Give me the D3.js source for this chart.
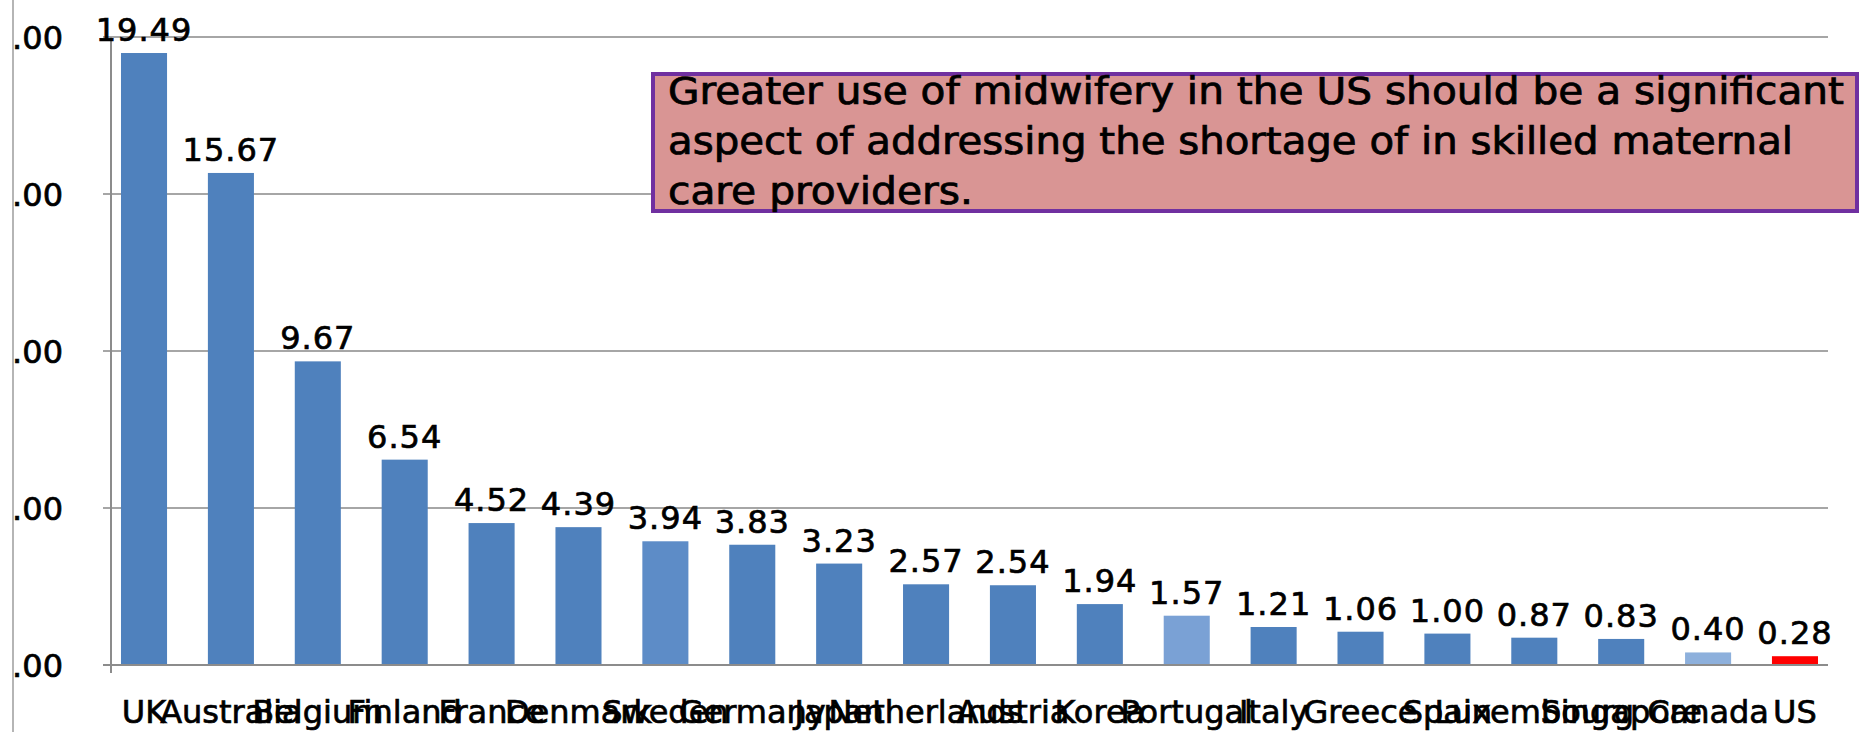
<!DOCTYPE html>
<html>
<head>
<meta charset="utf-8">
<script src="https://cdn.jsdelivr.net/npm/d3@7"></script>
<style>
  body { margin: 0; background: #fff; }
  svg { display: block; }
  text { stroke: #000; stroke-width: 0.7px; }
</style>
</head>
<body>
<div class="chart"></div>
<script>
var width = 1860;
var height = 732;

var countries = ["UK", "Australia", "Belgium", "Finland", "France", "Denmark", "Sweden", "Germany",
  "Japan", "Netherlands", "Austria", "Korea", "Portugal", "Italy", "Greece", "Spain",
  "Luxembourg", "Singapore", "Canada", "US"];
var ratios = [19.49, 15.67, 9.67, 6.54, 4.52, 4.39, 3.94, 3.83, 3.23, 2.57, 2.54, 1.94,
  1.57, 1.21, 1.06, 1.00, 0.87, 0.83, 0.40, 0.28];
var yTicks = [0, 5, 10, 15, 20];
var noteLines = [
  "Greater use of midwifery in the US should be a significant",
  "aspect of addressing the shortage of in skilled maternal",
  "care providers."
];

// bars that stand out from the default blue
var barColor = function(name) {
  if (name === "US") return "#ff0000";
  if (name === "Canada") return "#8db0dc";
  if (name === "Portugal") return "#7aa1d5";
  if (name === "Sweden") return "#5d8cc7";
  return "#4f81bd";
};

var svg = d3.select(".chart")
  .append("svg")
  .attr("width", width)
  .attr("height", height);

var x = d3.scaleBand()
  .domain(countries)
  .range([111, 1828])
  .paddingInner(0.47)
  .paddingOuter(0.115);

var y = d3.scaleLinear()
  .domain([0, 20])
  .range([665, 37]);

// gridlines
svg.append("g")
  .selectAll("line")
  .data(yTicks.slice(1))
  .enter()
  .append("line")
    .attr("x1", 103)
    .attr("x2", 1828)
    .attr("y1", function(d) { return y(d); })
    .attr("y2", function(d) { return y(d); })
    .attr("stroke", "#a6a6a6")
    .attr("stroke-width", 2);

// y axis labels (the slide is cropped on the left, only ".00" shows)
svg.append("g")
  .selectAll("text")
  .data(yTicks)
  .enter()
  .append("text")
  .text(function(d) { return d3.format(".2f")(d); })
    .attr("x", 63)
    .attr("y", function(d) { return y(d); })
    .attr("dy", "0.36em")
    .attr("text-anchor", "end")
    .attr("font-family", "DejaVu Sans")
    .attr("font-size", "32px")
    .attr("fill", "#000");

// bars
svg.append("g")
  .selectAll("rect")
  .data(ratios)
  .enter()
  .append("rect")
    .attr("x", function(d, i) { return x(countries[i]); })
    .attr("y", function(d) { return y(d); })
    .attr("width", x.bandwidth())
    .attr("height", function(d) { return y(0) - y(d); })
    .attr("fill", function(d, i) { return barColor(countries[i]); });

// axis lines
svg.append("line")
  .attr("x1", 111).attr("x2", 111)
  .attr("y1", y(20)).attr("y2", y(0) + 8)
  .attr("stroke", "#8c8c8c")
  .attr("stroke-width", 2);

svg.append("line")
  .attr("x1", 103).attr("x2", 1828)
  .attr("y1", y(0)).attr("y2", y(0))
  .attr("stroke", "#8c8c8c")
  .attr("stroke-width", 2);

// value labels
svg.append("g")
  .selectAll("text")
  .data(ratios)
  .enter()
  .append("text")
  .text(function(d) { return d3.format(".2f")(d); })
    .attr("x", function(d, i) { return x(countries[i]) + x.bandwidth() / 2; })
    .attr("y", function(d) { return y(d) - 12; })
    .attr("text-anchor", "middle")
    .attr("font-family", "DejaVu Sans")
    .attr("font-size", "32px")
    .attr("letter-spacing", "1px")
    .attr("fill", "#000");

// category labels
svg.append("g")
  .selectAll("text")
  .data(countries)
  .enter()
  .append("text")
  .text(function(d) { return d; })
    .attr("x", function(d) { return x(d) + x.bandwidth() / 2; })
    .attr("y", 723)
    .attr("text-anchor", "middle")
    .attr("font-family", "DejaVu Sans")
    .attr("font-size", "32px")
    .attr("fill", "#000");

// left crop edge of the slide
svg.append("rect")
  .attr("x", 0).attr("y", 0)
  .attr("width", 13).attr("height", height)
  .attr("fill", "#fff");

svg.append("line")
  .attr("x1", 13).attr("x2", 13)
  .attr("y1", 0).attr("y2", height)
  .attr("stroke", "#b5b5b5")
  .attr("stroke-width", 2);

// note box
var note = svg.append("g");

note.append("rect")
  .attr("x", 653)
  .attr("y", 74)
  .attr("width", 1204)
  .attr("height", 137)
  .attr("fill", "#d99594")
  .attr("stroke", "#7030a0")
  .attr("stroke-width", 4);

var noteWidths = [1176, 1125, 305];

note.selectAll("text")
  .data(noteLines)
  .enter()
  .append("text")
  .text(function(d) { return d; })
    .attr("x", 668)
    .attr("y", function(d, i) { return 104 + i * 50; })
    .attr("font-family", "DejaVu Sans Condensed")
    .attr("font-size", "37px")
    .attr("textLength", function(d, i) { return noteWidths[i]; })
    .attr("lengthAdjust", "spacingAndGlyphs")
    .attr("fill", "#000");
</script>
</body>
</html>
